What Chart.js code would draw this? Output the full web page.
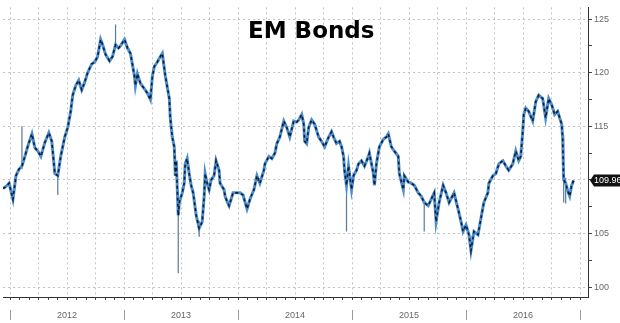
<!DOCTYPE html>
<html>
<head>
<meta charset="utf-8">
<script src="https://cdn.jsdelivr.net/npm/chart.js@4/dist/chart.umd.min.js"></script>
<style>
  body { margin: 0; background: #fff; }
  #wrap { position: relative; width: 620px; height: 323px; }
  #title { position: absolute; left: 248px; top: 18px; font: bold 23px "DejaVu Sans", sans-serif; line-height: 24px; color: #000; }
</style>
</head>
<body>
<div id="wrap">
  <canvas id="myChart" width="620" height="323"></canvas>
  <div id="title">EM Bonds</div>
</div>
<script>
// months since Jan 2012 and the price at each
const months = [-0.73, -0.42, -0.10, 0.31, 0.63, 0.94, 1.26, 1.57, 1.89, 2.31, 2.62, 2.93, 3.25, 3.67, 4.09, 4.40, 4.72, 5.03, 5.34, 5.76,
  6.08, 6.39, 6.60, 6.92, 7.23, 7.55, 7.86, 8.17, 8.59, 8.91, 9.22, 9.54, 9.75, 10.06, 10.48, 10.79, 11.11, 11.42, 11.63, 12.05,
  12.37, 12.68, 13.10, 13.20, 13.41, 13.73, 14.15, 14.46, 14.78, 14.99, 15.20, 15.51, 15.82, 16.03, 16.35, 16.77, 16.87, 17.08, 17.29, 17.40,
  17.50, 17.71, 17.82, 18.13, 18.34, 18.44, 18.65, 18.86, 19.07, 19.28, 19.60, 19.91, 20.23, 20.44, 20.54, 20.75, 20.96, 21.17, 21.48, 21.69,
  22.01, 22.11, 22.32, 22.53, 22.64, 22.85, 23.06, 23.27, 23.48, 23.80, 24.22, 24.53, 24.95, 25.26, 25.68, 25.99, 26.30, 26.72, 26.83, 27.25,
  27.56, 27.88, 28.09, 28.40, 28.82, 29.13, 29.45, 29.87, 30.18, 30.39, 30.71, 30.92, 31.02, 31.23, 31.44, 31.75, 32.07, 32.49, 32.80, 33.12,
  33.54, 33.85, 34.06, 34.37, 34.69, 34.90, 35.11, 35.21, 35.42, 35.63, 35.95, 36.16, 36.47, 36.68, 36.99, 37.31, 37.73, 37.83, 38.25, 38.36,
  38.57, 38.88, 39.30, 39.61, 39.82, 40.14, 40.45, 40.87, 40.98, 41.40, 41.50, 41.92, 42.23, 42.55, 42.97, 43.28, 43.60, 44.02, 44.33, 44.65,
  44.85, 45.17, 45.59, 45.90, 46.22, 46.74, 47.16, 47.48, 47.69, 48.00, 48.31, 48.52, 48.84, 49.26, 49.57, 49.88, 50.30, 50.41, 50.83, 51.14,
  51.46, 51.88, 52.19, 52.50, 52.92, 53.24, 53.55, 53.76, 53.97, 54.08, 54.29, 54.60, 55.02, 55.34, 55.65, 56.07, 56.38, 56.70, 57.02, 57.33,
  57.65, 58.07, 58.17, 58.28, 58.49, 58.70, 58.91, 59.12, 59.33];
const closes = [109.2, 109.4, 109.7, 108.2, 110.4, 111.0, 111.3, 112.2, 113.2, 114.3, 113.0, 112.7, 112.2, 113.5, 114.4, 113.6, 110.6, 110.4, 112.2, 114.0,
  114.9, 116.4, 117.9, 118.8, 119.3, 118.4, 119.1, 120.0, 120.8, 121.0, 121.5, 123.1, 122.6, 121.7, 121.1, 121.5, 122.6, 122.3, 122.5, 123.1,
  122.3, 121.8, 119.7, 118.8, 119.9, 119.0, 118.5, 118.1, 117.5, 119.7, 120.6, 121.0, 121.5, 121.8, 119.7, 117.6, 115.8, 114.0, 113.1, 110.4,
  111.8, 106.7, 107.9, 108.8, 109.7, 111.5, 112.0, 110.6, 109.5, 108.8, 106.7, 105.5, 106.1, 108.5, 110.6, 109.7, 109.1, 110.0, 110.4, 111.8,
  110.9, 109.7, 109.4, 109.1, 108.5, 108.0, 107.6, 108.2, 108.8, 108.8, 108.8, 108.6, 107.3, 108.2, 109.1, 110.4, 109.7, 110.9, 111.5, 112.2,
  112.0, 112.5, 113.4, 114.0, 115.5, 114.9, 114.0, 115.5, 115.4, 115.6, 116.1, 115.2, 113.6, 113.4, 114.9, 115.6, 115.2, 114.0, 113.6, 113.1,
  114.0, 114.5, 114.0, 113.4, 113.6, 113.1, 112.2, 110.9, 109.5, 111.3, 109.1, 110.4, 110.9, 111.5, 111.8, 111.3, 112.2, 112.5, 110.6, 109.5,
  111.5, 113.1, 113.8, 114.0, 114.3, 113.1, 112.7, 112.2, 110.6, 109.1, 110.4, 109.8, 109.7, 109.5, 108.8, 108.5, 107.9, 107.6, 108.2, 108.8,
  106.1, 107.9, 109.5, 108.8, 107.9, 108.8, 107.3, 106.1, 105.2, 105.8, 104.9, 103.4, 105.2, 104.9, 106.4, 107.9, 108.8, 109.7, 110.4, 110.6,
  111.5, 111.8, 111.3, 110.9, 111.5, 112.7, 111.8, 112.2, 114.5, 116.1, 116.7, 116.4, 115.5, 117.3, 117.9, 117.6, 115.8, 117.6, 117.0, 116.1,
  116.4, 115.2, 114.0, 110.0, 109.7, 109.0, 108.5, 109.5, 109.96];

// intraday spikes: month, low, high
const spikeMonths = [1.26, 5.03, 11.11, 17.71, 19.91, 35.42, 43.60, 48.52, 58.28, 58.49];
const spikeLows = [111.0, 108.6, 122.3, 101.3, 104.7, 105.2, 105.2, 103.2, 107.9, 107.8];
const spikeHighs = [115.0, 110.8, 124.5, 109.1, 106.2, 110.5, 108.0, 104.8, 114.2, 110.2];

const years = ['2012', '2013', '2014', '2015', '2016'];
const yTicks = [100, 102.5, 105, 107.5, 110, 112.5, 115, 117.5, 120, 122.5, 125];
const lastValue = 109.96;

const points = months.map((m, i) => ({x: m, y: closes[i]}));

const datasets = [
  {type: 'line', data: points, borderColor: '#4a8ed4', borderWidth: 3, pointRadius: 0, tension: 0, order: 2},
  {type: 'line', data: points, borderColor: '#141c28', borderWidth: 1.6, borderDash: [3, 3], pointRadius: 0, tension: 0, order: 1}
];
spikeMonths.forEach((m, i) => {
  datasets.push({type: 'line', data: [{x: m, y: spikeLows[i]}, {x: m, y: spikeHighs[i]}],
    borderColor: '#5d7897', borderWidth: 1.2, pointRadius: 0, order: 3});
});

const extras = {
  id: 'extras',
  afterDraw(chart) {
    const ctx = chart.ctx;
    const xs = chart.scales.x, ys = chart.scales.y;
    // year separators in the label band
    ctx.save();
    ctx.strokeStyle = '#999';
    ctx.lineWidth = 1;
    for (let k = 0; k <= years.length; k++) {
      const px = Math.round(xs.getPixelForValue(k * 12)) + 0.5;
      ctx.beginPath();
      ctx.moveTo(px, 310);
      ctx.lineTo(px, 320);
      ctx.stroke();
    }
    // last value tag
    const yv = ys.getPixelForValue(lastValue);
    const x0 = chart.chartArea.right + 2;
    ctx.fillStyle = '#111';
    ctx.beginPath();
    ctx.moveTo(x0, yv);
    ctx.lineTo(x0 + 4, yv - 6);
    ctx.lineTo(620, yv - 6);
    ctx.lineTo(620, yv + 6);
    ctx.lineTo(x0 + 4, yv + 6);
    ctx.closePath();
    ctx.fill();
    ctx.fillStyle = '#fff';
    ctx.font = '9px "Liberation Sans", Arial, sans-serif';
    ctx.textBaseline = 'middle';
    ctx.textAlign = 'left';
    ctx.fillText(lastValue.toFixed(2), x0 + 4, yv + 0.5);
    ctx.restore();
  }
};

const chart = new Chart(document.getElementById('myChart').getContext('2d'), {
  data: {datasets: datasets},
  options: {
    responsive: false,
    animation: false,
    layout: {padding: 0},
    plugins: {legend: {display: false}, tooltip: {enabled: false}},
    scales: {
      x: {
        type: 'linear',
        min: -0.73,
        max: 60.84,
        afterBuildTicks: s => { s.ticks = []; for (let m = 0; m <= 60; m++) s.ticks.push({value: m}); },
        afterFit: s => { s.height = 26; },
        ticks: {
          autoSkip: false, maxRotation: 0, padding: 10, color: '#666',
          font: {size: 9, family: '"Liberation Sans", Arial, sans-serif'},
          callback: v => (v % 12 === 6 ? years[(v - 6) / 12] : '')
        },
        grid: {
          color: c => (c.tick && c.tick.value % 3 === 0 ? '#c2c2c2' : 'rgba(0,0,0,0)'),
          tickColor: '#444', tickLength: 3, lineWidth: 1
        },
        border: {display: true, color: '#333', width: 1, dash: [2, 3]}
      },
      y: {
        position: 'right',
        min: 99.09,
        max: 126.09,
        afterBuildTicks: s => { s.ticks = yTicks.map(v => ({value: v})); },
        afterFit: s => { s.width = 32; },
        ticks: {
          padding: 2, color: '#666',
          font: {size: 9, family: '"Liberation Sans", Arial, sans-serif'},
          callback: v => (v % 5 === 0 ? String(v) : '')
        },
        grid: {
          color: c => (c.tick && c.tick.value % 5 === 0 ? '#c2c2c2' : 'rgba(0,0,0,0)'),
          tickColor: '#444', tickLength: 4, lineWidth: 1
        },
        border: {display: true, color: '#333', width: 1, dash: [2, 3]}
      }
    }
  },
  plugins: [extras]
});
</script>
</body>
</html>
